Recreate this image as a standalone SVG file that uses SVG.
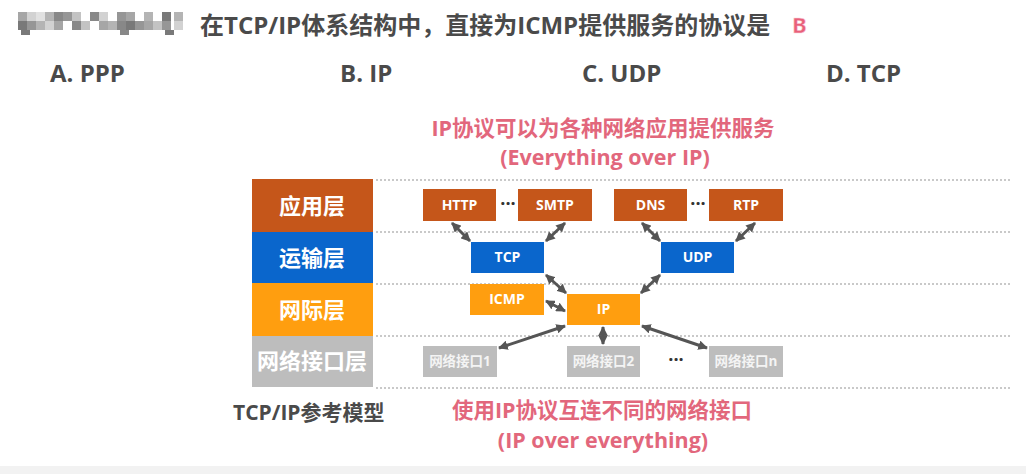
<svg xmlns="http://www.w3.org/2000/svg" width="1026" height="474" viewBox="0 0 1026 474">
<style>
text{font-family:"Open Sans","Noto Sans CJK SC",sans-serif;font-weight:bold}
.q{fill:#4a4a4a;font-size:24px}
.opt{fill:#4a4a4a;font-size:24px}
.red{fill:#E2677C;font-size:21.5px;text-anchor:middle}
.lay{fill:#fff;font-size:22px;text-anchor:middle}
.bx{fill:#fff;font-size:14px;text-anchor:middle}
.ni{fill:#f4f4f4;font-size:13.5px;text-anchor:middle}
.dots{fill:#333;font-size:18px;text-anchor:middle}
.dash{stroke:#b8b8b8;stroke-width:1.5;stroke-dasharray:2 2;fill:none}
.con{stroke:#555;stroke-width:3;fill:none;marker-start:url(#ah);marker-end:url(#ah)}
.app{fill:#C5561A}
.tr{fill:#0A66CC}
.net{fill:#FF9E0F}
.nif{fill:#BDBDBD}
</style>
<defs>
<marker id="ah" viewBox="0 0 10 10" refX="9" refY="5" markerWidth="3.2" markerHeight="3.2" orient="auto-start-reverse" markerUnits="strokeWidth">
<path d="M0,0 L10,5 L0,10 z" fill="#555"/>
</marker>
</defs>
<rect width="1026" height="474" fill="#fff"/>
<rect y="466" width="1026" height="8" fill="#f2f2f2"/>
<g id="mosaic" fill="#6a6a6a">
<rect x="18" y="12" width="9" height="9" opacity="0.6"/>
<rect x="27" y="12" width="9" height="9" opacity="0.3"/>
<rect x="36" y="12" width="9" height="9" opacity="0.2"/>
<rect x="45" y="12" width="9" height="9" opacity="0.5"/>
<rect x="54" y="12" width="9" height="9" opacity="0.8"/>
<rect x="63" y="12" width="9" height="9" opacity="0.7"/>
<rect x="72" y="12" width="9" height="9" opacity="0.4"/>
<rect x="90" y="12" width="9" height="9" opacity="0.8"/>
<rect x="99" y="12" width="9" height="9" opacity="0.3"/>
<rect x="117" y="12" width="9" height="9" opacity="0.7"/>
<rect x="126" y="12" width="9" height="9" opacity="0.6"/>
<rect x="144" y="12" width="9" height="9" opacity="0.5"/>
<rect x="162" y="12" width="9" height="9" opacity="0.9"/>
<rect x="174" y="12" width="9" height="9" opacity="0.5"/>
<rect x="18" y="21" width="9" height="9" opacity="0.9"/>
<rect x="27" y="21" width="9" height="9" opacity="0.7"/>
<rect x="36" y="21" width="9" height="9" opacity="0.5"/>
<rect x="45" y="21" width="9" height="9" opacity="0.3"/>
<rect x="54" y="21" width="9" height="9" opacity="0.6"/>
<rect x="72" y="21" width="9" height="9" opacity="0.8"/>
<rect x="81" y="21" width="9" height="9" opacity="0.4"/>
<rect x="99" y="21" width="9" height="9" opacity="0.6"/>
<rect x="108" y="21" width="9" height="9" opacity="0.5"/>
<rect x="117" y="21" width="9" height="9" opacity="0.8"/>
<rect x="126" y="21" width="9" height="9" opacity="0.9"/>
<rect x="135" y="21" width="9" height="9" opacity="0.7"/>
<rect x="144" y="21" width="9" height="9" opacity="0.6"/>
<rect x="153" y="21" width="9" height="9" opacity="0.4"/>
<rect x="162" y="21" width="9" height="9" opacity="0.7"/>
<rect x="174" y="21" width="9" height="9" opacity="0.3"/>
<rect x="120" y="30" width="9" height="5" opacity="0.8"/>
<rect x="165" y="30" width="9" height="5" opacity="0.9"/>
<rect x="21" y="30" width="9" height="5" opacity="0.9"/>
</g>
<g id="question">
<text class="q" x="200" y="34">在TCP/IP体系结构中，直接为ICMP提供服务的协议是</text>
<text x="792" y="33" style="font-size:22px;fill:#E8607A;stroke:#fbd5dc;stroke-width:0.5">B</text>
</g>
<g id="options">
<text class="opt" x="50" y="82">A. PPP</text>
<text class="opt" x="340" y="82">B. IP</text>
<text class="opt" x="582" y="82">C. UDP</text>
<text class="opt" x="826" y="82">D. TCP</text>
</g>
<g id="top-note">
<text class="red" x="603" y="136">IP协议可以为各种网络应用提供服务</text>
<text class="red" x="605" y="165">(Everything over IP)</text>
</g>
<g id="grid">
<line class="dash" x1="376" y1="180" x2="1010" y2="180"/>
<line class="dash" x1="376" y1="232" x2="1010" y2="232"/>
<line class="dash" x1="376" y1="284" x2="1010" y2="284"/>
<line class="dash" x1="376" y1="336" x2="1010" y2="336"/>
<line class="dash" x1="376" y1="388" x2="1010" y2="388"/>
</g>
<g id="layer-app"><rect class="app" x="252" y="179" width="121" height="53"/><text class="lay" x="312" y="214">应用层</text></g>
<g id="layer-transport"><rect class="tr" x="252" y="232" width="121" height="51"/><text class="lay" x="312" y="266">运输层</text></g>
<g id="layer-internet"><rect class="net" x="252" y="283" width="121" height="53"/><text class="lay" x="312" y="318">网际层</text></g>
<g id="layer-netif"><rect class="nif" x="252" y="336" width="121" height="51"/><text class="lay" x="312" y="369">网络接口层</text></g>
<g id="n-http"><rect class="app" x="423" y="189" width="73" height="32"/><text class="bx" x="459.5" y="210">HTTP</text></g>
<g id="n-smtp"><rect class="app" x="518" y="189" width="74" height="32"/><text class="bx" x="555" y="210">SMTP</text></g>
<g id="n-dns"><rect class="app" x="614" y="189" width="73" height="32"/><text class="bx" x="650.5" y="210">DNS</text></g>
<g id="n-rtp"><rect class="app" x="709" y="189" width="74" height="32"/><text class="bx" x="746" y="210">RTP</text></g>
<text class="dots" x="508" y="210">···</text>
<text class="dots" x="698" y="210">···</text>
<g id="n-tcp"><rect class="tr" x="471" y="242" width="73" height="31"/><text class="bx" x="507.5" y="262">TCP</text></g>
<g id="n-udp"><rect class="tr" x="661" y="242" width="73" height="31"/><text class="bx" x="697.5" y="262">UDP</text></g>
<g id="n-icmp"><rect class="net" x="470" y="284" width="74" height="31"/><text class="bx" x="507" y="304">ICMP</text></g>
<g id="n-ip"><rect class="net" x="567" y="294" width="73" height="31"/><text class="bx" x="603.5" y="314">IP</text></g>
<g id="n-if1"><rect class="nif" x="423" y="346" width="74" height="31"/><text class="ni" x="460" y="366">网络接口1</text></g>
<g id="n-if2"><rect class="nif" x="567" y="346" width="73" height="31"/><text class="ni" x="603.5" y="366">网络接口2</text></g>
<g id="n-ifn"><rect class="nif" x="709" y="346" width="74" height="31"/><text class="ni" x="746" y="366">网络接口n</text></g>
<text class="dots" x="676" y="366">···</text>
<g id="connectors">
<line class="con" x1="452" y1="223" x2="470" y2="241"/>
<line class="con" x1="565" y1="223" x2="546" y2="241"/>
<line class="con" x1="642" y1="223" x2="660" y2="241"/>
<line class="con" x1="755" y1="223" x2="736" y2="241"/>
<line class="con" x1="546" y1="275" x2="566" y2="293"/>
<line class="con" x1="660" y1="275" x2="641" y2="293"/>
<line class="con" x1="546" y1="301" x2="565" y2="311"/>
<line class="con" x1="565" y1="326" x2="499" y2="348"/>
<line class="con" x1="603" y1="327" x2="603" y2="344"/>
<line class="con" x1="642" y1="326" x2="707" y2="348"/>
</g>
<g id="bottom-notes">
<text x="233" y="420" style="fill:#4a4a4a;font-size:21px">TCP/IP参考模型</text>
<text class="red" x="602" y="418">使用IP协议互连不同的网络接口</text>
<text class="red" x="603" y="448">(IP over everything)</text>
</g>
</svg>
